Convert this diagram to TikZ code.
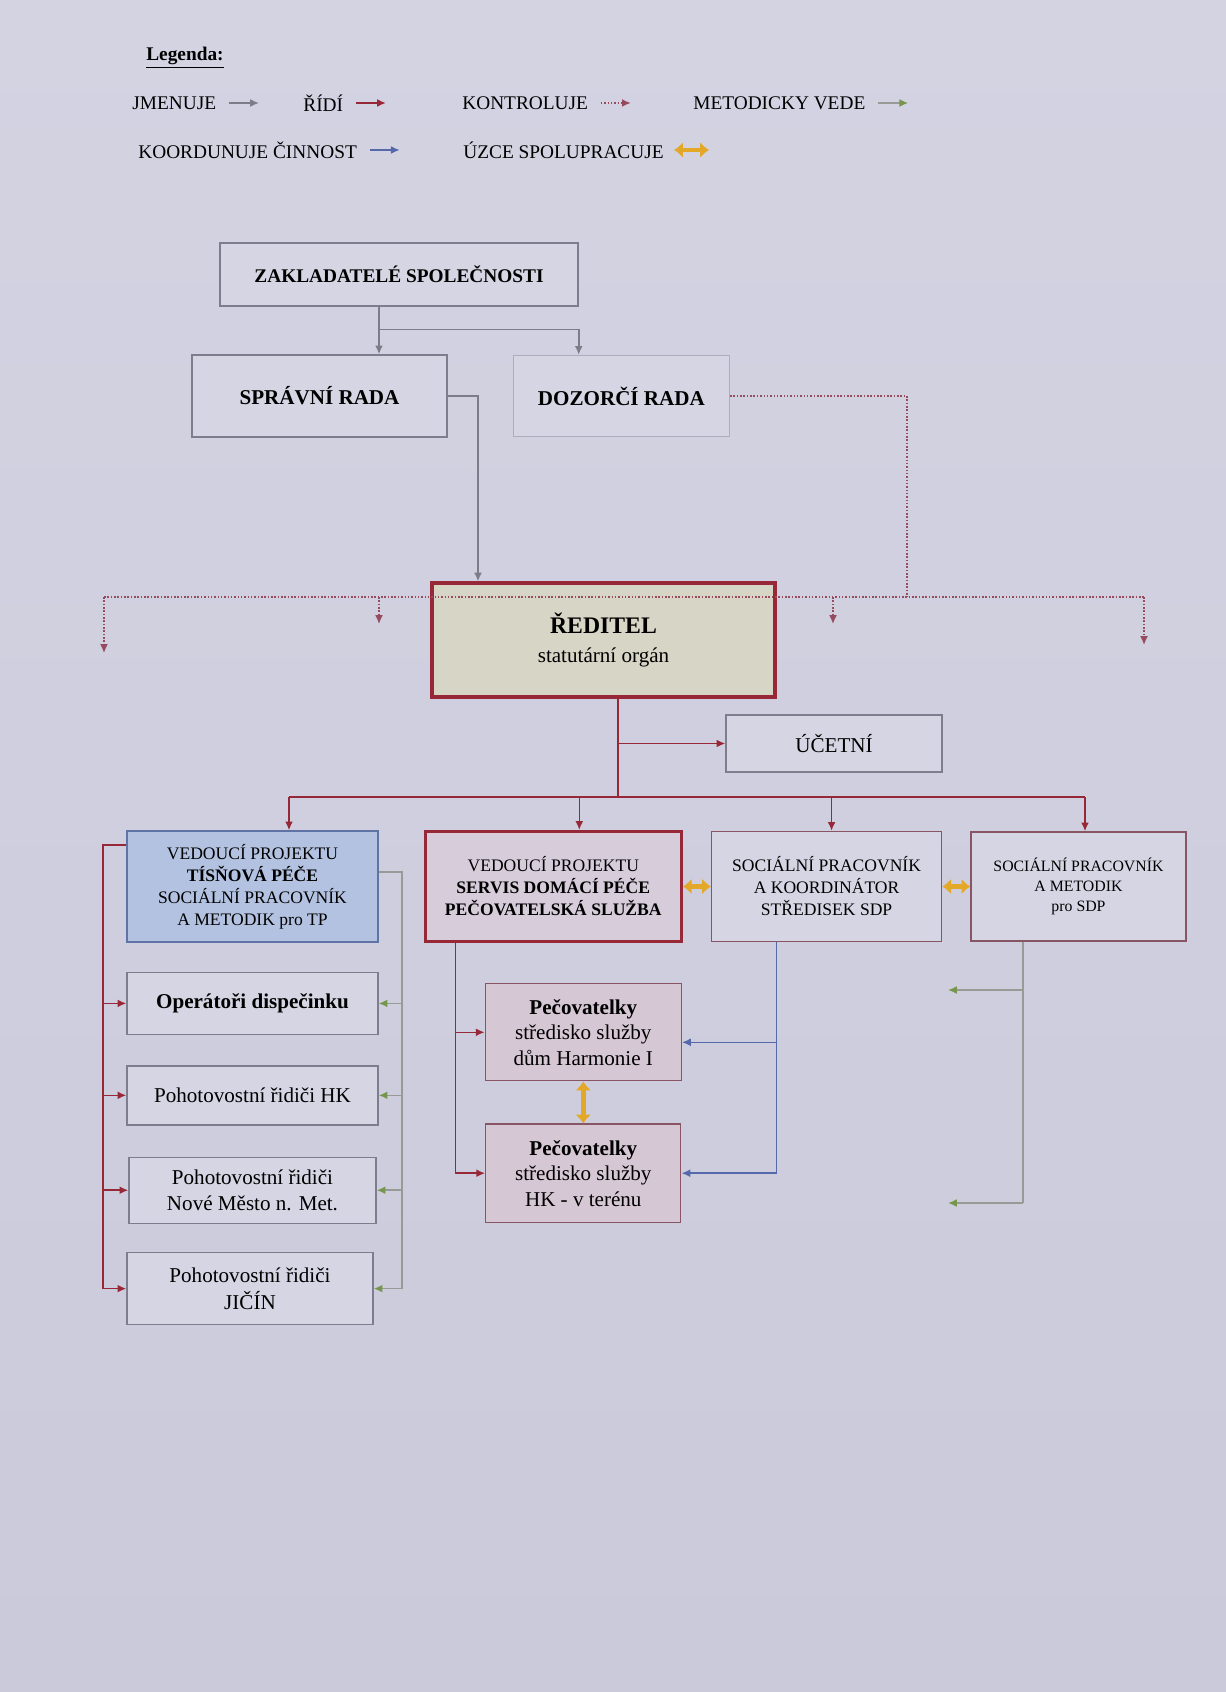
\documentclass[tikz,border=0pt]{standalone}
\usepackage{fontspec}
\setmainfont{Liberation Serif}
\usetikzlibrary{positioning,arrows.meta}

\definecolor{pozadi}{RGB}{203,202,219}
\definecolor{pozadisvetle}{RGB}{212,211,226}
\definecolor{ramecek}{RGB}{125,125,142}
\definecolor{vypln}{RGB}{213,213,228}
\definecolor{jmenujeseda}{RGB}{125,125,138}
\definecolor{ridicervena}{RGB}{150,40,55}
\definecolor{kontrolujecervena}{RGB}{150,75,95}
\definecolor{metodickyzelena}{RGB}{118,150,75}
\definecolor{metodickycara}{RGB}{150,155,150}
\definecolor{koordmodra}{RGB}{85,105,170}
\definecolor{uzceoranzova}{RGB}{228,168,40}
\definecolor{reditelvypln}{RGB}{214,213,198}
\definecolor{tisnovavypln}{RGB}{178,194,224}
\definecolor{tisnovaramecek}{RGB}{95,115,165}
\definecolor{servisvypln}{RGB}{214,204,218}
\definecolor{pecvypln}{RGB}{214,199,213}
\definecolor{sdpramecek}{RGB}{135,85,100}

\tikzset{box/.style={draw=ramecek,fill=vypln,line width=0.8pt,align=center,inner sep=2pt}}
\tikzset{reditel box/.style={box,draw=ridicervena,line width=1.8pt}}
\tikzset{tisnova box/.style={box,draw=tisnovaramecek,fill=tisnovavypln}}
\tikzset{sdp box/.style={box,draw=sdpramecek}}
\tikzset{pec box/.style={box,draw=sdpramecek,fill=pecvypln,font=\fontsize{12}{14.5}\selectfont}}
\tikzset{legend text/.style={anchor=west,inner sep=0pt,font=\fontsize{11}{13}\selectfont}}
\tikzset{tip/.style={-{Latex[length=5pt,width=4.5pt]}}}
\tikzset{jmenuje line/.style={draw=jmenujeseda,line width=0.9pt}}
\tikzset{jmenuje/.style={jmenuje line,tip}}
\tikzset{ridi line/.style={draw=ridicervena,line width=0.9pt}}
\tikzset{ridi/.style={ridi line,tip}}
\tikzset{kontroluje line/.style={draw=kontrolujecervena,line width=0.9pt,densely dotted}}
\tikzset{kontroluje/.style={kontroluje line,tip}}
\tikzset{metodicky line/.style={draw=metodickycara,line width=0.9pt}}
\tikzset{metodicky/.style={metodicky line,-{Latex[length=5pt,width=4.5pt,color=metodickyzelena]}}}
\tikzset{koordinuje line/.style={draw=koordmodra,line width=0.9pt}}
\tikzset{koordinuje/.style={koordinuje line,tip}}
\tikzset{uzce/.style={draw=uzceoranzova,line width=2.8pt,{Latex[length=5pt,width=9pt]}-{Latex[length=5pt,width=9pt]}}}

\begin{document}
\begin{tikzpicture}
\useasboundingbox (0,0) rectangle (24.52,-33.84);
\shade[top color=pozadisvetle,bottom color=pozadi] (0,0) rectangle (24.52,-33.84);

%Legenda
\node[legend text,font=\fontsize{11}{13}\selectfont\bfseries] (lg-nadpis) at (2.92,-1.16) {\underline{Legenda:}};
\node[legend text] (lg-jmenuje) at (2.64,-2.06) {JMENUJE};
\node[legend text] (lg-ridi) at (6.06,-2.06) {ŘÍDÍ};
\node[legend text] (lg-kontroluje) at (9.24,-2.06) {KONTROLUJE};
\node[legend text] (lg-metodicky) at (13.86,-2.06) {METODICKY VEDE};
\node[legend text] (lg-koordinuje) at (2.76,-3.00) {KOORDUNUJE ČINNOST};
\node[legend text] (lg-uzce) at (9.26,-3.00) {ÚZCE SPOLUPRACUJE};

\draw[jmenuje] ([xshift=0.25cm]lg-jmenuje.east) -- ([xshift=0.85cm]lg-jmenuje.east);
\draw[ridi] ([xshift=0.25cm]lg-ridi.east) -- ([xshift=0.85cm]lg-ridi.east);
\draw[kontroluje] ([xshift=0.25cm]lg-kontroluje.east) -- ([xshift=0.85cm]lg-kontroluje.east);
\draw[metodicky] ([xshift=0.25cm]lg-metodicky.east) -- ([xshift=0.85cm]lg-metodicky.east);
\draw[koordinuje] ([xshift=0.25cm]lg-koordinuje.east) -- ([xshift=0.85cm]lg-koordinuje.east);
\draw[uzce] ([xshift=0.2cm]lg-uzce.east) -- ([xshift=0.9cm]lg-uzce.east);

%Vedeni spolecnosti
\node[box,minimum width=7.16cm,minimum height=1.26cm,font=\fontsize{11}{13}\selectfont\bfseries] (zakl) at (7.98,-5.49) {ZAKLADATELÉ SPOLEČNOSTI};

\node[box,minimum width=5.10cm,minimum height=1.64cm,font=\fontsize{12}{14}\selectfont\bfseries] (spravni) at (6.39,-7.92) {SPRÁVNÍ RADA};

\node[box,draw=ramecek!45!vypln,minimum width=4.32cm,minimum height=1.62cm,font=\fontsize{12}{14}\selectfont\bfseries] (dozor) [right=1.30cm of spravni] {DOZORČÍ RADA};

\node[reditel box,fill=reditelvypln,minimum width=6.86cm,minimum height=2.28cm,font=\fontsize{12}{16}\selectfont] (reditel) at (12.07,-12.80) {{\fontsize{13.5}{16}\selectfont\bfseries ŘEDITEL}\\ statutární orgán};

\node[box,minimum width=4.32cm,minimum height=1.14cm,font=\fontsize{12}{14}\selectfont] (ucetni) at (16.68,-14.87) {ÚČETNÍ};

%Projekty
\node[tisnova box,minimum width=5.02cm,minimum height=2.22cm,font=\fontsize{10}{12.5}\selectfont] (tisnova) at (5.05,-17.73) {VEDOUCÍ PROJEKTU\\ \textbf{TÍSŇOVÁ PÉČE}\\ SOCIÁLNÍ PRACOVNÍK\\ A METODIK pro TP};

\node[reditel box,fill=servisvypln,minimum width=5.12cm,minimum height=2.20cm,font=\fontsize{10}{12.5}\selectfont] (servis) [right=0.90cm of tisnova] {VEDOUCÍ PROJEKTU\\ \textbf{SERVIS DOMÁCÍ PÉČE}\\ \textbf{PEČOVATELSKÁ SLUŽBA}};

\node[sdp box,minimum width=4.60cm,minimum height=2.20cm,font=\fontsize{10}{12.5}\selectfont] (koord) [right=0.56cm of servis] {SOCIÁLNÍ PRACOVNÍK\\ A KOORDINÁTOR\\ STŘEDISEK SDP};

\node[sdp box,minimum width=4.30cm,minimum height=2.18cm,font=\fontsize{9}{11.5}\selectfont] (metodik) [right=0.56cm of koord] {SOCIÁLNÍ PRACOVNÍK\\ A METODIK\\ pro SDP};

%Tisnova pece
\node[box,minimum width=5.02cm,minimum height=1.24cm,font=\fontsize{12}{15}\selectfont] (operatori) [below=0.58cm of tisnova] {\textbf{Operátoři dispečinku}};
\node[box,minimum width=5.02cm,minimum height=1.18cm,font=\fontsize{12}{15}\selectfont] (hk) [below=0.60cm of operatori] {Pohotovostní řidiči HK};
\node[box,minimum width=4.94cm,minimum height=1.32cm,font=\fontsize{12}{15}\selectfont] (nm) [below=0.62cm of hk] {Pohotovostní řidiči\\ Nové Město n. Met.};
\node[box,minimum width=4.92cm,minimum height=1.44cm,font=\fontsize{12}{15}\selectfont] (jicin) [below=0.56cm of nm,xshift=-0.05cm] {Pohotovostní řidiči\\ JIČÍN};

%Pecovatelska sluzba
\node[pec box,minimum width=3.92cm,minimum height=1.94cm] (pec1) [below=0.80cm of servis,xshift=0.6cm] {\textbf{Pečovatelky}\\ středisko služby\\ dům Harmonie I};
\node[pec box,minimum width=3.90cm,minimum height=1.96cm] (pec2) [below=0.84cm of pec1] {\textbf{Pečovatelky}\\ středisko služby\\ HK - v terénu};

%Volne konce a sbernice
\coordinate (kbus) at (18.14,-11.94);
\coordinate (kL) at (2.08,-11.94);
\coordinate (kR) at (22.88,-11.94);
\coordinate (k1) at (2.08,-13.06);
\coordinate (k2) at (7.58,-12.48);
\coordinate (k3) at (16.66,-12.48);
\coordinate (k4) at (22.88,-12.90);
\coordinate (rbus) at (0,-15.94);
\coordinate (tbus) at (2.06,-16.90);
\coordinate (gbus) at (8.04,-17.44);
\coordinate (m1) at (18.96,-19.80);
\coordinate (m2) at (18.96,-24.06);

%Jmenuje
\draw[jmenuje] ([xshift=-0.4cm]zakl.south) -- ([xshift=-0.4cm]zakl.south |- spravni.north);
\draw[jmenuje] ([xshift=-0.4cm,yshift=-0.46cm]zakl.south) -| (zakl.south east |- dozor.north);
\draw[jmenuje] (spravni.east) -| ([xshift=-2.51cm]reditel.north);

%Kontroluje
\draw[kontroluje line] (dozor.east) -| (kbus);
\draw[kontroluje line] (kL) -- (kR);
\draw[kontroluje] (kL) -- (k1);
\draw[kontroluje] (k2 |- kbus) -- (k2);
\draw[kontroluje] (k3 |- kbus) -- (k3);
\draw[kontroluje] (kR) -- (k4);

%Ridi
\draw[ridi line] ([xshift=0.29cm]reditel.south) -- ([xshift=0.29cm]reditel.south |- rbus);
\draw[ridi] ([xshift=0.29cm]reditel.south |- ucetni.west) -- (ucetni.west);
\draw[ridi line] ([xshift=0.73cm]tisnova.north |- rbus) -- ([xshift=0.13cm]metodik.north |- rbus);
\draw[ridi] ([xshift=0.73cm]tisnova.north |- rbus) -- ([xshift=0.73cm]tisnova.north);
\draw[ridi] ([xshift=0.52cm]servis.north |- rbus) -- ([xshift=0.52cm]servis.north);
\draw[ridi] ([xshift=0.10cm]koord.north |- rbus) -- ([xshift=0.10cm]koord.north);
\draw[ridi] ([xshift=0.13cm]metodik.north |- rbus) -- ([xshift=0.13cm]metodik.north);

\draw[ridi line] (tisnova.west |- tbus) -- (tbus) -- (tbus |- jicin.west);
\draw[ridi] (tbus |- operatori.west) -- (operatori.west);
\draw[ridi] (tbus |- hk.west) -- (hk.west);
\draw[ridi] (tbus |- nm.west) -- (nm.west);
\draw[ridi] (tbus |- jicin.west) -- (jicin.west);

\draw[ridi line] ([xshift=-1.96cm]servis.south) -- ([xshift=-1.96cm]servis.south |- pec2.west);
\draw[ridi] ([xshift=-1.96cm]servis.south |- pec1.west) -- (pec1.west);
\draw[ridi] ([xshift=-1.96cm]servis.south |- pec2.west) -- (pec2.west);

%Metodicky vede
\draw[metodicky line] (tisnova.east |- gbus) -- (gbus) -- (gbus |- jicin.east);
\draw[metodicky] (gbus |- operatori.east) -- (operatori.east);
\draw[metodicky] (gbus |- hk.east) -- (hk.east);
\draw[metodicky] (gbus |- nm.east) -- (nm.east);
\draw[metodicky] (gbus |- jicin.east) -- (jicin.east);

\draw[metodicky line] ([xshift=-1.11cm]metodik.south) -- ([xshift=-1.11cm]metodik.south |- m2);
\draw[metodicky] ([xshift=-1.11cm]metodik.south |- m1) -- (m1);
\draw[metodicky] ([xshift=-1.11cm]metodik.south |- m2) -- (m2);

%Koordinuje cinnost
\draw[koordinuje line] ([xshift=-1.0cm]koord.south) -- ([xshift=-1.0cm]koord.south |- pec2.east);
\draw[koordinuje] ([xshift=-1.0cm,yshift=-0.2cm]koord.south |- pec1.east) -- ([yshift=-0.2cm]pec1.east);
\draw[koordinuje] ([xshift=-1.0cm]koord.south |- pec2.east) -- (pec2.east);

%Uzce spolupracuje
\draw[uzce] (servis.east) -- (koord.west);
\draw[uzce] (koord.east) -- (metodik.west);
\draw[uzce] (pec1.south) -- (pec2.north);

\end{tikzpicture}
\end{document}
